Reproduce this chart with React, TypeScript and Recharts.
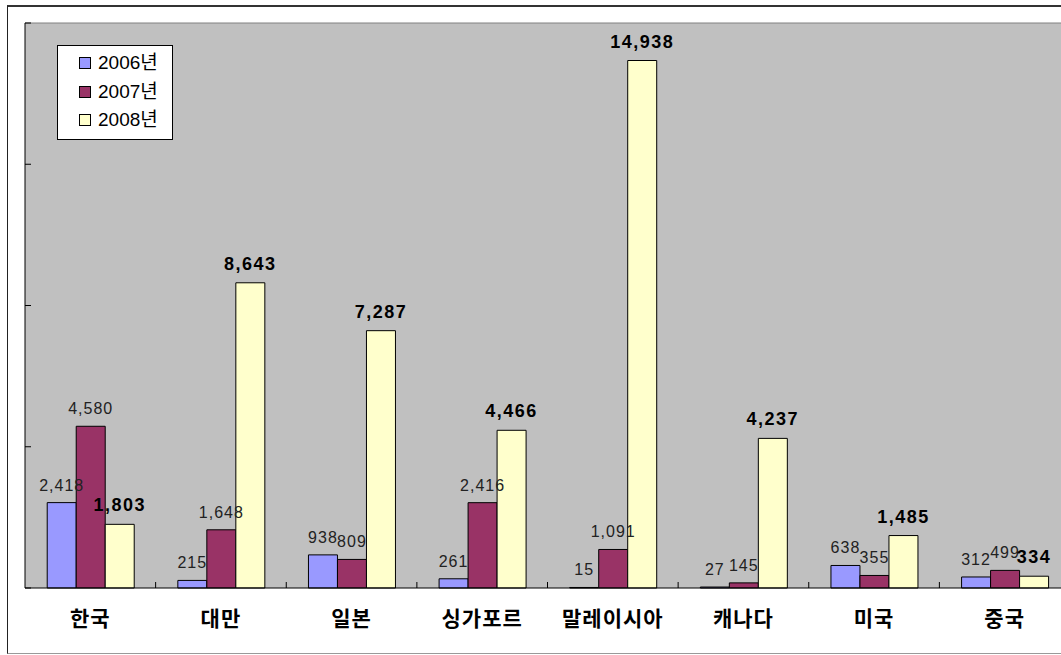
import React from 'react';
import { BarChart, Bar, XAxis, YAxis, CartesianGrid, Legend, LabelList, ReferenceLine } from 'recharts';

const categories = ['한국', '대만', '일본', '싱가포르', '말레이시아', '캐나다', '미국', '중국'];
const values2006 = [2418, 215, 938, 261, 15, 27, 638, 312];
const values2007 = [4580, 1648, 809, 2416, 1091, 145, 355, 499];
const values2008 = [1803, 8643, 7287, 4466, 14938, 4237, 1485, 334];
const seriesNames = ['2006년', '2007년', '2008년'];
const seriesColors = ['#9999ff', '#993366', '#ffffcc'];
const yTicks = [0, 4000, 8000, 12000, 16000];

const data = categories.map((name, i) => ({
  name,
  y2006: values2006[i],
  y2007: values2007[i],
  y2008: values2008[i],
}));

const numFont = "'Liberation Sans', 'Noto Sans CJK KR', sans-serif";
const krFont = "'Noto Sans CJK KR', sans-serif";

const CategoryTick = (props: any) => {
  const { x, y, payload, width, visibleTicksCount } = props;
  let band = Number(width) / Number(visibleTicksCount);
  if (!Number.isFinite(band)) band = 1045 / categories.length;
  return (
    <g>
      <line x1={x + band / 2} x2={x + band / 2} y1={y} y2={y - 6} stroke="#000" />
      <text x={x} y={y + 38} textAnchor="middle" fontSize={21} fontWeight="bold" fontFamily={krFont} fill="#000" letterSpacing={1}>
        {payload.value}
      </text>
    </g>
  );
};

// y axis has no labels, only short inward tick marks
const ValueTick = (props: any) => {
  const { x, y } = props;
  const axisX = Number(x);
  return <line x1={axisX} x2={axisX + 6} y1={y} y2={y} stroke="#000" />;
};

const makeLabel = (bold: boolean) => (props: any) => {
  const { x, y, width, value } = props;
  return (
    <text
      x={Number(x) + Number(width) / 2}
      y={Number(y) - (bold ? 13 : 12)}
      textAnchor="middle"
      fontSize={bold ? 18 : 16}
      fontWeight={bold ? 'bold' : 'normal'}
      fontFamily={numFont}
      letterSpacing={bold ? 1.5 : 1}
      fill={bold ? '#000' : '#222'}
    >
      {Number(value).toLocaleString('en-US')}
    </text>
  );
};

const LegendBox = ({ payload }: any) => (
  <div
    style={{
      width: 114,
      height: 90,
      background: '#fff',
      border: '1px solid #000',
      boxSizing: 'content-box',
      paddingTop: 3,
    }}
  >
    {(payload || []).map((entry: any) => (
      <div key={entry.value} style={{ display: 'flex', alignItems: 'center', height: 28.5, paddingLeft: 21 }}>
        <span
          style={{
            width: 10,
            height: 10,
            background: entry.color,
            border: '1px solid #000',
            marginRight: 7,
          }}
        />
        <span style={{ fontFamily: numFont, fontSize: 19, color: '#000', lineHeight: '20px' }}>{entry.value}</span>
      </div>
    ))}
  </div>
);

export default function App() {
  return (
    <div style={{ position: 'absolute', left: 0, top: 0, width: 1061, height: 655, overflow: 'hidden', background: '#fff' }}>
      <div
        style={{
          position: 'absolute',
          left: 7,
          top: 5,
          width: 1100,
          height: 646,
          borderTop: '2px solid #333',
          borderLeft: '1px solid #222',
          borderBottom: '1px solid #999',
          background: '#fff',
        }}
      >
        <BarChart
          width={1090}
          height={646}
          data={data}
          margin={{ top: 16, right: 28, left: 16, bottom: 15 }}
          barCategoryGap="17%"
          barGap={0}
        >
          <CartesianGrid horizontal={false} vertical={false} fill="#c0c0c0" />
          <ReferenceLine y={16000} stroke="#808080" />
          <XAxis
            dataKey="name"
            height={50}
            axisLine={{ stroke: '#000' }}
            tickLine={false}
            tickSize={0}
            tickMargin={0}
            interval={0}
            tick={<CategoryTick />}
          />
          <YAxis
            domain={[0, 16000]}
            ticks={yTicks}
            width={1}
            interval={0}
            tickSize={0}
            tickMargin={0}
            tickLine={false}
            axisLine={{ stroke: '#000' }}
            tick={<ValueTick />}
          />
          <Legend
            layout="vertical"
            align="center"
            verticalAlign="middle"
            wrapperStyle={{ left: 49, top: 38, width: 'auto' }}
            content={<LegendBox />}
          />
          <Bar dataKey="y2006" name={seriesNames[0]} fill={seriesColors[0]} stroke="#000" strokeWidth={1} isAnimationActive={false}>
            <LabelList dataKey="y2006" content={makeLabel(false)} />
          </Bar>
          <Bar dataKey="y2007" name={seriesNames[1]} fill={seriesColors[1]} stroke="#000" strokeWidth={1} isAnimationActive={false}>
            <LabelList dataKey="y2007" content={makeLabel(false)} />
          </Bar>
          <Bar dataKey="y2008" name={seriesNames[2]} fill={seriesColors[2]} stroke="#000" strokeWidth={1} isAnimationActive={false}>
            <LabelList dataKey="y2008" content={makeLabel(true)} />
          </Bar>
        </BarChart>
      </div>
    </div>
  );
}
